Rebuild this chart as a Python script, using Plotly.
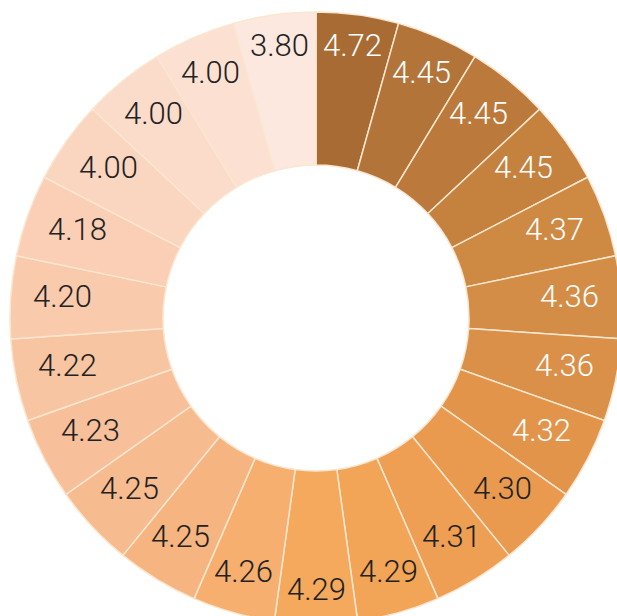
import math
import plotly.graph_objects as go

# Scores shown around the ring, clockwise from 12 o'clock
scores = [4.72, 4.45, 4.45, 4.45, 4.37, 4.36, 4.36, 4.32, 4.30, 4.31, 4.29, 4.29,
          4.26, 4.25, 4.25, 4.23, 4.22, 4.20, 4.18, 4.00, 4.00, 4.00, 3.80]
score_labels = [f"{v:.2f}" for v in scores]

# Every segment gets the same share of the ring
segment_share = [1] * len(scores)

# Brown -> orange -> pale peach gradient around the ring
segment_colors = [
    "#A86B33", "#B3743A", "#BB7A3C", "#C5823F", "#CE8943", "#D48D46",
    "#DA9048", "#E2954A", "#E99A4F", "#EE9F53", "#F2A457", "#F5A95D",
    "#F6AF6E", "#F6B580", "#F7BB90", "#F8C09A", "#F8C5A3", "#F9CAAC",
    "#FACFB5", "#FAD5C0", "#FBDBCA", "#FCE1D3", "#FCE8DE",
]
text_colors = ["#FFFFFF"] * 8 + ["#222222"] * (len(scores) - 8)

W, H = 632, 636
M = dict(l=10, r=10, t=12, b=12)
HOLE = 0.5
FONT_SIZE = 31

fig = go.Figure(
    go.Pie(
        values=segment_share,
        textinfo="none",
        marker=dict(colors=segment_colors, line=dict(color="#FBE6CF", width=1.5)),
        hole=HOLE,
        sort=False,
        direction="clockwise",
        rotation=0,
        text=score_labels,
        hoverinfo="text",
        showlegend=False,
    )
)

# Place each score near the outer rim of its segment, pulled in by the
# label's half-extent along the radial direction.
plot_w = W - M["l"] - M["r"]
plot_h = H - M["t"] - M["b"]
radius = min(plot_w, plot_h) / 2
rim_pad = 20
half_w, half_h = 31, 11
n = len(scores)
annotations = []
for k, (label, col) in enumerate(zip(score_labels, text_colors)):
    theta = math.radians((k + 0.5) * 360 / n)
    s, c = math.sin(theta), math.cos(theta)
    r = radius - rim_pad - abs(s) * half_w - abs(c) * half_h
    annotations.append(dict(
        x=0.5 + r * s / plot_w,
        y=0.5 + r * c / plot_h,
        xref="paper", yref="paper",
        xanchor="center", yanchor="middle",
        yshift=4,
        text=label, showarrow=False,
        font=dict(family="Roboto, Liberation Sans, Arial, sans-serif",
                  size=FONT_SIZE, weight=300, color=col),
    ))

fig.update_layout(
    width=W,
    height=H,
    autosize=False,
    margin=M,
    paper_bgcolor="white",
    plot_bgcolor="white",
    annotations=annotations,
)

fig.write_html(
    "out.html",
    post_script="document.documentElement.style.overflow='hidden';"
                "document.body.style.overflow='hidden';"
                "document.body.style.margin='0';",
)
